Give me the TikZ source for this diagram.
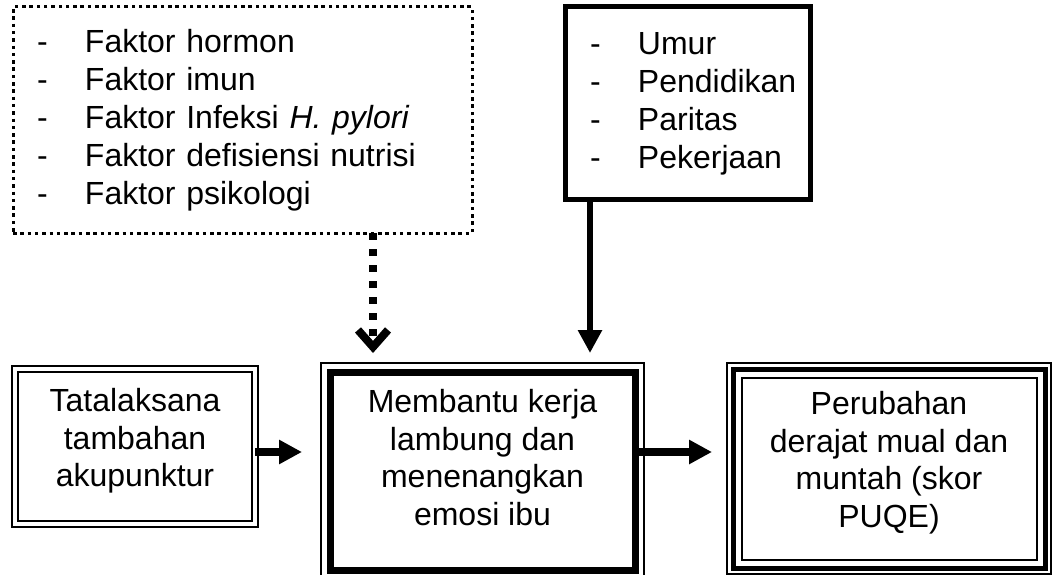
\documentclass[tikz,border=0pt]{standalone}
\usepackage{fontspec}
\setmainfont{Liberation Sans}
\usetikzlibrary{arrows.meta}
\newcommand{\itm}[1]{\makebox[48pt][l]{-}#1}

\begin{document}
\begin{tikzpicture}[x=1pt,y=-1pt,
    txt/.style={font=\fontsize{32}{37.5}\selectfont,align=center,inner sep=0pt,anchor=north},
    listbox/.style={rectangle,font=\fontsize{32}{38}\selectfont,align=left,outer sep=0pt},
    dotbox/.style={listbox,draw,line width=3pt,dash pattern=on 3.5pt off 3.8pt},
    solidbox/.style={listbox,draw,line width=5pt},
    dblbox/.style={rectangle,draw,line width=2.5pt,double,double distance=3.5pt,outer sep=0pt},
    heavybox/.style={rectangle,draw,line width=7pt,outer sep=0pt},
    tribox/.style={rectangle,draw,line width=5pt,outer sep=0pt},
    thinframe/.style={draw,line width=2pt},
    flowarrow/.style={-{Triangle[length=23pt,width=23pt]},line width=8pt},
    downarrow/.style={-{Triangle[length=23pt,width=23pt]},line width=6pt},
    dotarrow/.style={-{Straight Barb[length=17pt,width=30pt,line width=8pt]},line width=8pt,dash pattern=on 7pt off 9pt}
  ]
    \useasboundingbox (0,0) rectangle (1053,575);

    \node[dotbox,text width=411pt,inner xsep=24pt,inner ysep=8pt,minimum height=226pt] (factors) at (242.5,120)
      {\itm{Faktor hormon}\\\itm{Faktor imun}\\\itm{Faktor Infeksi \textit{H. pylori}}\\\itm{Faktor defisiensi nutrisi}\\\itm{Faktor psikologi}};
    \node[solidbox,text width=195pt,inner xsep=25pt,inner ysep=8pt,minimum height=193pt] (demo) at (687.5,103.5)
      {\itm{Umur}\\\itm{Pendidikan}\\\itm{Paritas}\\\itm{Pekerjaan}};

    \node[dblbox,minimum width=240pt,minimum height=155pt] (treat) at (135,446.5) {};
    \node[txt] (treattext) at (135,388.5) {Tatalaksana\\tambahan\\akupunktur};

    \node[heavybox,minimum width=305pt,minimum height=198pt] (mech) at (482.5,471) {};
    \node[txt] (mechtext) at (482.5,389.5) {Membantu kerja\\lambung dan\\menenangkan\\emosi ibu};
    \draw[thinframe] ([shift={(-9pt,9pt)}]mech.north west) rectangle ([shift={(9pt,-9pt)}]mech.south east);

    \node[tribox,minimum width=312pt,minimum height=199pt] (outcome) at (889,468.5) {};
    \node[txt] (outcometext) at (889,391.5) {Perubahan\\derajat mual dan\\muntah (skor\\PUQE)};
    \draw[thinframe] ([shift={(-6pt,6pt)}]outcome.north west) rectangle ([shift={(6pt,-6pt)}]outcome.south east);
    \draw[thinframe] ([shift={(8.5pt,-8.5pt)}]outcome.north west) rectangle ([shift={(-8.5pt,8.5pt)}]outcome.south east);

    \draw[dotarrow,shorten >=19pt] ([xshift=130.5pt]factors.south) -- ([xshift=130.5pt]factors.south |- mech.north);
    \draw[downarrow,shorten >=19pt] ([xshift=25pt]demo.south west) -- ([xshift=25pt]demo.south west |- mech.north);
    \draw[flowarrow,shorten >=28pt] ([yshift=-5.5pt]treat.east) -- ([yshift=-5.5pt]treat.east -| mech.west);
    \draw[flowarrow,shorten >=21pt] ([yshift=19pt]mech.east) -- ([yshift=19pt]mech.east -| outcome.west);
  \end{tikzpicture}
\end{document}
